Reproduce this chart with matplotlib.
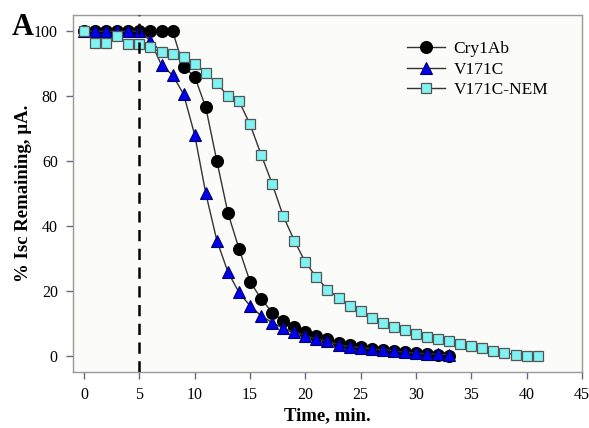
import numpy as np
import matplotlib
matplotlib.use('Agg')
import matplotlib.pyplot as plt

plt.rcParams['font.family'] = ['Liberation Serif', 'DejaVu Serif']

# Time points (min) and % Isc remaining
t_cry = list(range(0, 34))
cry1ab = [100, 100, 100, 100, 100, 100, 100, 100, 100, 89, 86, 76.5, 60, 44, 33,
          22.8, 17.6, 13.3, 10.8, 8.9, 7.2, 6.0, 5.0, 4.0, 3.3, 2.7, 2.2, 1.8,
          1.4, 1.1, 0.8, 0.5, 0.3, 0.0]

t_v171c = list(range(0, 34))
v171c = [100, 100, 100, 100, 100, 100, 97, 89.5, 86.5, 80.5, 68, 50, 35.5, 25.8,
         19.5, 15.4, 12.3, 10.2, 8.4, 7.3, 6.2, 5.2, 4.4, 3.4, 2.8, 2.5, 2.1, 1.8,
         1.5, 1.0, 0.8, 0.6, 0.4, 0.3]

t_nem = list(range(0, 42))
v171c_nem = [100, 96.5, 96.5, 98.5, 96, 96, 95, 93.5, 93, 92, 90, 87, 84, 80,
             78.5, 71.3, 62, 53, 43, 35.5, 28.8, 24.2, 20.4, 17.8, 15.2, 13.7,
             11.6, 10.1, 8.8, 7.8, 6.7, 5.7, 5.0, 4.6, 3.7, 3.1, 2.5, 1.5, 0.9,
             0.3, 0.0, 0.0]

fig = plt.figure(figsize=(5.89, 4.28), dpi=100)
ax = fig.add_axes([0.124, 0.131, 0.864, 0.834])
ax.set_facecolor('#fbfbf9')

line_kw = dict(color='#333333', lw=1.0)
ax.plot(t_cry, cry1ab, marker='o', ms=8.4, mfc='black', mec='black',
        label='Cry1Ab', **line_kw)
ax.plot(t_v171c, v171c, marker='^', ms=8.4, mfc='#0000ee', mec='#000066',
        mew=0.8, label='V171C', **line_kw)
ax.plot(t_nem, v171c_nem, marker='s', ms=7.3, mfc='#80f2f2', mec='#555555',
        mew=0.9, label='V171C-NEM', **line_kw)

ax.axvline(5, color='black', lw=1.8, ls=(0, (4.5, 3)), zorder=5)

ax.set_xlim(-1, 45)
ax.set_ylim(-5, 105)
ax.set_xticks(np.arange(0, 46, 5))
ax.set_yticks(np.arange(0, 101, 20))
ax.tick_params(direction='out', length=5, width=1, color='#666688',
               labelsize=11.5, pad=6)
for side in ['left', 'right', 'top', 'bottom']:
    ax.spines[side].set_color('#999999')
    ax.spines[side].set_linewidth(1.0)

ax.set_xlabel('Time, min.', fontsize=13.5, fontweight='bold', labelpad=3)
ax.set_ylabel('% Isc Remaining, µA.', fontsize=13.5, fontweight='bold',
              labelpad=1)

leg = ax.legend(loc='upper right', bbox_to_anchor=(0.965, 0.97), frameon=False,
                fontsize=12.5, handlelength=2.2, labelspacing=0.25,
                handletextpad=0.5)

fig.text(0.02, 0.918, 'A', fontsize=22, fontweight='bold')

fig.savefig('out.png', dpi=100)
